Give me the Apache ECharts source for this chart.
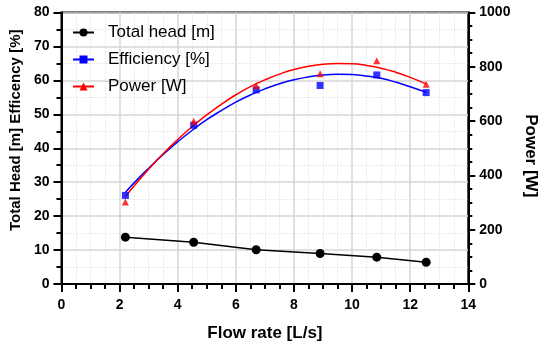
<!DOCTYPE html>
<html>
<head>
<meta charset="utf-8">
<script src="https://cdn.jsdelivr.net/npm/echarts@6/dist/echarts.min.js"></script>
<style>
html,body{margin:0;padding:0;background:#fff;}
#c{width:550px;height:347px;}
</style>
</head>
<body>
<div id="c"></div>
<script>
// Measured data
const flowRate = [2.2, 4.55, 6.7, 8.9, 10.85, 12.55];
const totalHead = [13.8, 12.3, 10.1, 9.0, 7.9, 6.4];
const efficiency = [26.1, 46.8, 57.2, 58.5, 61.6, 56.4];
const power = [302, 599, 731, 774, 822, 736];

// Fitted curves
const fitX = [2.2, 2.5, 3, 3.5, 4, 4.5, 5, 5.5, 6, 6.5, 7, 7.5, 8, 8.5, 9, 9.5, 10, 10.5, 11, 11.5, 12, 12.55];
const effFit = [27.0, 29.8, 34.1, 38.2, 41.9, 45.3, 48.4, 51.1, 53.6, 55.7, 57.5, 59.0, 60.2, 61.0, 61.6, 61.8, 61.7, 61.3, 60.6, 59.5, 58.1, 56.5];
const powFit = [322, 361, 423, 480, 532, 580, 623, 662, 697, 727, 752, 773, 790, 802, 809, 812, 811, 805, 795, 780, 761, 737];

const xTicks = [0, 2, 4, 6, 8, 10, 12, 14];
const leftTicks = [0, 10, 20, 30, 40, 50, 60, 70, 80];
const rightTicks = [0, 200, 400, 600, 800, 1000];

const names = ['Total head [m]', 'Efficiency [%]', 'Power [W]'];

const pairs = (xs, ys) => xs.map((x, i) => [x, ys[i]]);

const FONT = 'Liberation Sans, Arial, sans-serif';
const labelStyle = {color: '#000', fontFamily: FONT, fontWeight: 'bold', fontSize: 14};
const nameStyle = {color: '#000', fontFamily: FONT, fontWeight: 'bold', fontSize: 17};
const tickStyle = {color: '#000', width: 2};

const chart = echarts.init(document.getElementById('c'), null, {renderer: 'canvas'});
chart.setOption({
  backgroundColor: '#fff',
  animation: false,
  grid: {left: 58.3, right: 81.7, top: 12.5, bottom: 62.5, show: true, borderColor: '#000', borderWidth: 2, backgroundColor: 'transparent'},
  legend: {
    orient: 'vertical', left: 72, top: 24, padding: 0, itemWidth: 21, itemHeight: 10, itemGap: 10,
    data: names,
    textStyle: {color: '#000', fontFamily: FONT, fontSize: 17, padding: [0, 0, 0, 9]}
  },
  xAxis: {
    type: 'value', min: xTicks[0], max: xTicks[xTicks.length - 1], interval: 2,
    name: 'Flow rate [L/s]', nameLocation: 'middle', nameGap: 41, nameTextStyle: nameStyle,
    axisLine: {onZero: false, lineStyle: {color: '#000', width: 2}},
    axisTick: {inside: false, length: 8, lineStyle: tickStyle},
    minorTick: {show: true, splitNumber: 4, length: 5, lineStyle: tickStyle},
    splitLine: {show: true, lineStyle: {color: '#d6d6d6', width: 1.5}},
    minorSplitLine: {show: true, lineStyle: {color: '#d6d6d6', width: 1, type: [1, 2]}},
    axisLabel: Object.assign({margin: 14}, labelStyle)
  },
  yAxis: [{
    type: 'value', min: leftTicks[0], max: leftTicks[leftTicks.length - 1], interval: 10,
    name: 'Total Head [m] Efficency [%]', nameLocation: 'middle', nameGap: 36.5,
    nameTextStyle: Object.assign({}, nameStyle, {fontSize: 15, padding: [0, 0, 0, 36]}),
    axisLine: {lineStyle: {color: '#000', width: 2}},
    axisTick: {inside: false, length: 8, lineStyle: tickStyle},
    minorTick: {show: true, splitNumber: 2, length: 5, lineStyle: tickStyle},
    splitLine: {show: true, lineStyle: {color: '#d6d6d6', width: 1.5}},
    minorSplitLine: {show: true, lineStyle: {color: '#d6d6d6', width: 1, type: [1, 2]}},
    axisLabel: Object.assign({margin: 12}, labelStyle)
  }, {
    type: 'value', position: 'right', min: rightTicks[0], max: rightTicks[rightTicks.length - 1], interval: 200,
    name: 'Power [W]', nameLocation: 'middle', nameGap: 54, nameRotate: -90,
    nameTextStyle: Object.assign({}, nameStyle, {padding: [0, 0, 0, 15]}),
    axisLine: {show: true, lineStyle: {color: '#000', width: 2}},
    axisTick: {show: true, inside: false, length: 7, lineStyle: tickStyle},
    minorTick: {show: true, splitNumber: 4, length: 4, lineStyle: tickStyle},
    splitLine: {show: false},
    axisLabel: Object.assign({margin: 11, formatter: v => String(v)}, labelStyle)
  }],
  series: [
    {
      name: names[0], type: 'line', data: pairs(flowRate, totalHead),
      symbol: 'circle', symbolSize: 9, z: 5,
      lineStyle: {color: '#000', width: 1.5}, itemStyle: {color: '#000'}
    },
    {
      name: names[1], type: 'line', data: pairs(fitX, effFit), smooth: true,
      symbol: 'rect', symbolSize: 7, showSymbol: false, z: 3,
      lineStyle: {color: '#0000ff', width: 1.5}, itemStyle: {color: '#0000ff'}
    },
    {
      name: names[2], type: 'line', yAxisIndex: 1, data: pairs(fitX, powFit), smooth: true,
      symbol: 'triangle', symbolSize: 8, showSymbol: false, z: 3,
      lineStyle: {color: '#ff0000', width: 1.5}, itemStyle: {color: '#ff0000'}
    },
    {
      name: names[1], type: 'scatter', data: pairs(flowRate, efficiency),
      symbol: 'rect', symbolSize: 7, z: 6, itemStyle: {color: '#0000ff'}
    },
    {
      name: names[2], type: 'scatter', yAxisIndex: 1, data: pairs(flowRate, power),
      symbol: 'triangle', symbolSize: 7, z: 6, itemStyle: {color: '#ff0000'}
    }
  ]
});
</script>
</body>
</html>
